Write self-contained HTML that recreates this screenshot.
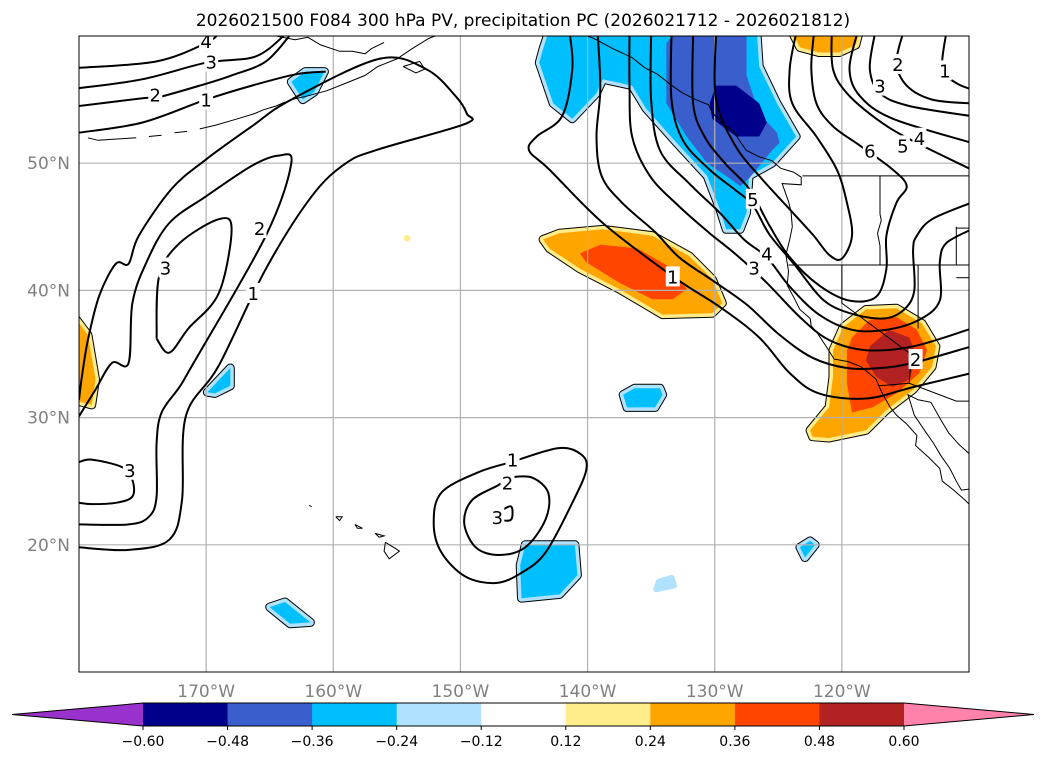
<!DOCTYPE html>
<html><head><meta charset="utf-8">
<style>
html,body{margin:0;padding:0;background:#fff;}
svg{display:block;font-family:"DejaVu Sans","Liberation Sans",sans-serif;}
</style></head>
<body>
<svg id="chart" width="1047" height="765" viewBox="0 0 1047 765" xmlns="http://www.w3.org/2000/svg">
<text x="523" y="26" text-anchor="middle" font-size="17" fill="#000">2026021500 F084 300 hPa PV, precipitation PC (2026021712 - 2026021812)</text>
<defs><clipPath id="mapclip"><rect x="79" y="36" width="890" height="636"/></clipPath></defs>
<g id="map" clip-path="url(#mapclip)"></g>
<rect x="79" y="36" width="890" height="636" fill="none" stroke="#000" stroke-width="1"/>
<g id="axes"></g>
<g id="cbar"></g>
</svg>
<script>
// ---------- projection extents ----------
const lonMin = -180, lonMax = -110, latMin = 10, latMax = 60;
const X0 = 79, X1 = 969, Y0 = 36, Y1 = 672;
function xOf(lon){ return X0 + (lon - lonMin) / (lonMax - lonMin) * (X1 - X0); }
function yOf(lat){ return Y0 + (latMax - lat) / (latMax - latMin) * (Y1 - Y0); }

// ---------- grid ticks ----------
const lonTicks = [-170,-160,-150,-140,-130,-120];
const lonTickLabels = ["170°W","160°W","150°W","140°W","130°W","120°W"];
const latTicks = [20,30,40,50];
const latTickLabels = ["20°N","30°N","40°N","50°N"];

// ---------- colorbar ----------
const cbarLevels = [-0.60,-0.48,-0.36,-0.24,-0.12,0.12,0.24,0.36,0.48,0.60];
const cbarLabels = ["\u22120.60","\u22120.48","\u22120.36","\u22120.24","\u22120.12","0.12","0.24","0.36","0.48","0.60"];
const cbarColors = ["#9932cc","#00008b","#3a5fcd","#00bfff","#b0e2ff","#ffffff","#ffec8b","#ffa500","#ff4500","#b22222","#ff82ab"];

// ---------- precipitation PC blobs (value, [lon,lat] polygon) ----------
const blobValues = [-0.30,-0.42,-0.54, 0.30,0.42, 0.30,0.42,0.54, 0.30,0.30, -0.30,-0.30,-0.30,-0.30,-0.30,-0.30, -0.18, 0.18];
const blobShapes = [
 [[-143.5,59.0],[-143.8,57.9],[-142.7,54.7],[-141.2,53.5],[-139.3,55.5],[-138.8,56.6],[-136.5,56.1],[-135.4,54.3],[-133.0,51.6],[-130.6,49.0],[-129.6,46.4],[-129.1,44.8],[-128.0,44.8],[-127.5,46.1],[-127.3,49.0],[-125.5,50.0],[-123.6,52.1],[-125.1,54.7],[-126.5,57.6],[-126.7,60.5],[-143.0,60.5]],
 [[-133.0,60.5],[-133.8,59.4],[-133.8,54.7],[-132.2,52.1],[-130.6,50.0],[-129.1,49.0],[-128.0,48.2],[-127.3,48.8],[-125.5,51.0],[-124.9,51.6],[-125.1,52.4],[-126.5,53.9],[-127.5,56.9],[-127.5,60.5]],
 [[-129.9,56.1],[-128.3,56.1],[-126.5,54.7],[-125.9,53.2],[-126.5,52.1],[-128.3,52.1],[-130.2,53.5],[-130.4,54.7]],
 [[-143.5,44.0],[-142.2,44.5],[-138.8,44.8],[-134.9,44.3],[-132.0,42.7],[-130.2,40.9],[-129.4,39.0],[-130.2,38.2],[-134.1,38.1],[-137.5,40.1],[-140.6,41.7],[-143.0,43.3]],
 [[-140.6,42.9],[-139.0,43.6],[-136.1,43.3],[-133.3,41.7],[-132.2,40.1],[-133.3,39.3],[-134.9,39.3],[-137.5,40.6],[-140.1,42.2]],
 [[-122.5,29.0],[-121.0,30.8],[-120.7,33.2],[-120.7,35.3],[-119.9,37.1],[-118.1,38.5],[-115.7,38.6],[-113.7,37.4],[-112.6,35.6],[-112.9,34.0],[-114.4,32.2],[-116.5,30.6],[-118.1,29.0],[-121.0,28.4],[-122.3,28.5]],
 [[-119.2,36.3],[-117.8,37.7],[-115.7,37.9],[-114.1,36.9],[-113.3,35.3],[-113.9,33.5],[-115.7,31.9],[-117.6,30.8],[-119.2,30.4],[-119.6,32.7],[-119.6,35.3]],
 [[-117.8,35.6],[-116.3,36.9],[-114.7,36.3],[-114.1,34.8],[-114.7,33.0],[-116.0,32.4],[-117.3,33.2],[-118.1,34.5]],
 [[-124.0,60.5],[-123.3,59.1],[-121.8,58.7],[-120.2,58.7],[-118.9,59.3],[-118.6,60.5]],
 [[-180.5,38.1],[-179.3,36.5],[-178.7,33.0],[-179.0,31.0],[-180.5,31.4]],
 [[-163.3,56.4],[-162.2,57.2],[-160.7,57.2],[-161.5,55.6],[-162.4,55.0]],
 [[-169.9,32.0],[-168.1,33.9],[-168.1,32.5],[-169.3,31.9]],
 [[-137.2,31.8],[-136.3,32.3],[-134.3,32.3],[-134.1,31.8],[-134.7,30.8],[-136.9,30.8]],
 [[-144.9,20.0],[-141.0,20.0],[-140.8,17.6],[-142.2,16.1],[-145.2,15.8],[-145.3,18.4]],
 [[-165.0,15.1],[-163.8,15.5],[-161.8,13.9],[-163.4,13.8]],
 [[-123.3,19.8],[-122.5,20.3],[-122.1,20.0],[-122.9,19.0]],
 [[-134.4,17.1],[-133.4,17.4],[-133.2,16.8],[-134.6,16.5]],
 [[-154.22,44.12],[-154.18,44.12],[-154.18,44.08],[-154.22,44.08]]
];

// ---------- PV contours (value, [lon,lat] line) ----------
const contourValues = [4,3,2,1,1,2,3,3, 1,2,3, 1,2,3,4,5,6,7, 5,4,3,2,1];
const contourLines = [
 [[-180,57.5],[-173.9,58.0],[-170.0,59.45],[-169.0,60.2]],
 [[-180,55.9],[-175,56.6],[-170,57.9],[-166.1,58.4],[-163.7,60.2]],
 [[-180,54.5],[-175,55.1],[-173.7,55.2],[-170.5,56.1],[-168,56.9],[-165.3,58.0],[-163.3,60.2]],
 [[-180,52.4],[-175,53.2],[-170,55.0],[-166.4,56.1],[-162.9,57.0],[-160.6,57.2]],
 [[-180,31.4],[-179.8,33.0],[-179.3,36.1],[-178.4,39.6],[-177.1,42.1],[-176.1,42.1],[-175.3,44.3],[-172.7,48.0],[-170,50.3],[-166.4,52.9],[-163.3,55.0],[-156.4,58.2],[-152.7,57.4],[-150.4,55.3],[-149.5,53.9],[-149.6,53.1],[-156.4,51.1],[-159.0,50.0],[-161.7,47.4],[-165.3,41.7],[-169.0,34.1],[-171.6,30.1],[-171.9,23.5],[-172.9,20.4],[-176.1,19.6],[-180,19.8]],
 [[-180,30.1],[-178.7,32.2],[-177.4,34.3],[-176.1,34.3],[-175.8,39.0],[-174.7,42.2],[-172.9,45.3],[-170,47.4],[-166.4,49.8],[-164.3,50.6],[-163.3,50.0],[-165.3,44.3],[-171.1,34.1],[-172.1,32.4],[-173.5,30.4],[-173.9,28.0],[-173.9,23.8],[-174.5,22.2],[-176.1,21.6],[-180,21.6]],
 [[-173.9,36.2],[-172.9,35.1],[-171.4,37.0],[-169.0,39.8],[-168.0,44.8],[-169.0,45.6],[-172.1,43.7],[-173.7,41.1],[-173.9,36.2]],
 [[-180,26.5],[-179.0,26.7],[-176.6,26.1],[-175.8,25.1],[-175.8,23.8],[-177.1,23.3],[-179.0,23.2],[-180,23.3]],
 [[-146.0,26.5],[-142.3,27.6],[-140.5,27.1],[-140.1,25.9],[-141.2,23.3],[-143.3,19.4],[-145.2,17.8],[-147.2,17.0],[-149.6,17.5],[-151.5,19.4],[-152.1,21.7],[-151.5,24.1],[-148.6,25.7],[-146.0,26.5]],
 [[-146.2,25.3],[-144.4,25.3],[-143.1,24.1],[-143.3,22.0],[-144.9,19.8],[-147.0,19.2],[-148.8,19.8],[-149.7,21.7],[-149.1,23.5],[-147.0,24.7],[-146.2,25.3]],
 [[-146.8,22.7],[-146.0,23.0],[-146.0,22.0],[-146.8,22.0],[-146.8,22.7]],
 [[-141.4,60.2],[-141.2,57.4],[-142.0,53.7],[-144.0,52.1],[-144.6,51.0],[-143.0,49.5],[-138.8,45.3],[-133.3,41.1],[-129.6,38.7],[-126.5,36.3],[-124.1,33.5],[-121.8,31.9],[-118.1,31.5],[-114.4,32.4],[-109.8,33.5]],
 [[-139.2,60.2],[-139.0,55.8],[-139.3,52.1],[-138.9,49.0],[-137.3,46.9],[-134.7,44.6],[-132.8,42.6],[-130.2,40.8],[-127.5,38.9],[-124.9,36.5],[-122.3,34.7],[-119.6,33.9],[-117.0,33.9],[-114.4,34.3],[-109.8,35.6]],
 [[-136.7,60.2],[-136.7,56.1],[-136.5,52.1],[-135.1,49.0],[-132.8,46.6],[-130.4,44.5],[-128.3,42.8],[-125.9,40.6],[-123.3,37.9],[-121.0,36.1],[-118.1,35.3],[-114.4,35.6],[-109.8,37.0]],
 [[-135.0,60.2],[-135.0,55.0],[-134.3,51.0],[-132.0,48.4],[-129.6,46.1],[-127.7,44.0],[-125.9,42.6],[-124.1,40.3],[-121.8,38.1],[-119.2,36.9],[-116.5,36.9],[-113.9,37.7],[-112.3,39.2],[-112.3,42.2],[-111.8,43.7],[-109.8,44.8]],
 [[-133.4,60.2],[-133.4,55.0],[-132.5,51.8],[-130.4,49.5],[-128.4,47.9],[-127.0,46.7],[-125.7,44.4],[-123.7,42.0],[-121.4,39.2],[-119.0,38.1],[-116.6,37.8],[-115.1,38.5],[-114.3,40.0],[-114.4,43.2],[-114.1,44.3],[-112.9,45.6],[-109.8,46.9]],
 [[-131.7,60.2],[-131.7,54.7],[-130.8,52.1],[-129.2,50.0],[-127.3,48.0],[-125.7,45.1],[-124.1,42.6],[-121.8,40.4],[-119.4,39.2],[-117.3,39.5],[-116.5,41.7],[-116.5,44.3],[-115.7,46.9],[-114.9,48.2],[-116.0,49.5],[-118.6,51.4],[-120.7,52.9],[-122.0,54.7],[-122.4,57.4],[-122.2,60.2]],
 [[-129.9,60.2],[-129.9,55.0],[-128.4,51.4],[-126.5,49.0],[-124.4,46.7],[-122.3,44.4],[-121.0,42.8],[-120.0,42.5],[-119.2,44.3],[-119.6,46.9],[-120.4,49.5],[-122.0,52.1],[-123.9,54.7],[-124.1,57.4],[-123.6,60.2]],
 [[-120.8,60.2],[-120.7,57.4],[-119.6,55.5],[-117.3,53.5],[-114.7,51.9],[-109.8,49.5]],
 [[-118.8,60.2],[-119.4,57.4],[-118.6,55.3],[-116.0,53.5],[-109.8,51.6]],
 [[-117.4,60.2],[-117.8,57.4],[-117.0,55.5],[-114.7,54.5],[-109.8,53.7]],
 [[-115.2,60.2],[-115.7,57.9],[-114.9,56.1],[-112.9,55.0],[-109.8,54.7]],
 [[-111.8,60.2],[-112.1,57.4],[-111.0,56.3],[-109.8,55.8]]
];

// ---------- contour labels ----------
const labelTexts = ["4","3","2","1","2","1","3","3","1","2","3","1","2","3","4","5","6","5","4","3","2","1"];
const labelPos = [[-170,59.6],[-169.6,58.0],[-174.0,55.4],[-170.0,55.0],[-165.8,44.9],[-166.3,39.8],[-173.2,41.8],[-176.0,25.9],[-145.9,26.7],[-146.3,24.9],[-147.1,22.2],[-133.3,41.1],[-114.2,34.6],[-126.9,41.8],[-125.9,42.9],[-127.0,47.2],[-117.8,51.0],[-115.2,51.4],[-113.9,52.0],[-117.0,56.1],[-115.6,57.8],[-111.9,57.3]];

// ---------- coastlines & borders ----------
const coastLines = [
 [[-140.5,60.2],[-139.5,59.8],[-138,59],[-136.5,58.3],[-135.5,57.5],[-134.5,57.0],[-133.5,56.2],[-132.5,55.5],[-131.5,55],[-130.5,54.6],[-130.2,54],[-129.5,53.2],[-128.5,52.5],[-128,51.7],[-127.5,51],[-126.5,50.5],[-125.5,50.2],[-124.8,49.6],[-123.8,49.3],[-123.2,48.9],[-123.2,48.3],[-124.7,48.4],[-124.2,47],[-124,46.2],[-123.9,45],[-124.1,44],[-124.4,42.8],[-124.2,41.5],[-124.3,40.4],[-123.8,39.5],[-123.3,38.5],[-122.5,37.8],[-122.4,37.2],[-121.9,36.6],[-121.3,35.7],[-120.6,34.6],[-119.5,34.4],[-118.5,34.0],[-118.0,33.6],[-117.3,33.0],[-117.1,32.5],[-116.7,31.7],[-116.2,30.8],[-115.7,30.2],[-114.9,29.5],[-114.1,28.6],[-114.2,27.8],[-113.2,26.9],[-112.3,26.0],[-112.1,25.0],[-111.2,24.3],[-110.3,23.5],[-109.8,23.0]],
 [[-109.8,24.4],[-110.6,24.3],[-111.0,25.0],[-111.5,26.0],[-112.2,27.0],[-112.8,28.0],[-113.5,29.0],[-114.3,30.2],[-114.7,31.5],[-114.8,31.8],[-114.0,31.4],[-113.0,31.2],[-112.2,29.8],[-111.6,28.8],[-110.8,27.9],[-109.8,27.0]],
 [[-163.3,55.0],[-162,55.3],[-160.5,55.7],[-159,56.3],[-157.5,56.9],[-156.5,57.6],[-155,58.2],[-153.8,59.0],[-152.5,59.8],[-151.5,60.2]],
 [[-154.5,57.6],[-153.5,57.1],[-152.8,57.4],[-153.2,58.0],[-154.5,57.6]],
 [[-179.3,52.0],[-178.5,51.8],[-177,51.9],[-175.5,52.0]],
 [[-174.5,52.1],[-173.5,52.2]],
 [[-172.5,52.4],[-171.5,52.5]],
 [[-170.5,52.7],[-169.2,53.0],[-167.5,53.5],[-166.2,53.9],[-165.5,54.2],[-164.5,54.5],[-163.8,54.8]],
 [[-165.8,60.2],[-164.5,60.0],[-163,59.7],[-162,59.9],[-161,59.3],[-159.5,58.8],[-158.5,58.8],[-157.5,58.6],[-157,59.0],[-156,59.5]],
 [[-155.9,20.2],[-155.1,19.7],[-154.8,19.5],[-155.6,18.9],[-156.0,19.5],[-155.9,20.2]],
 [[-156.7,20.9],[-156.0,20.7],[-156.4,20.6],[-156.7,20.9]],
 [[-158.3,21.6],[-157.7,21.3],[-158.1,21.3],[-158.3,21.6]],
 [[-159.8,22.2],[-159.3,22.2],[-159.5,21.9],[-159.8,22.2]],
 [[-161.9,23.1],[-161.7,23.0]]
];
const borderLines = [
 [[-123.1,49.0],[-109.8,49.0]],
 [[-124.2,42.0],[-109.8,42.0]],
 [[-117.0,49.0],[-117.0,46.0],[-116.9,45.5],[-117.2,44.5],[-117.0,43.5],[-117.0,42.0]],
 [[-120.0,42.0],[-120.0,39.0],[-114.6,35.0],[-114.6,34.0],[-114.7,32.7]],
 [[-117.1,32.5],[-114.7,32.7],[-111.0,31.3],[-109.8,31.3]],
 [[-114.0,42.0],[-114.0,37.0]],
 [[-111.0,45.0],[-111.0,42.0],[-109.8,42.0]],
 [[-111.0,41.0],[-109.8,41.0]],
 [[-109.8,44.9],[-111.0,44.9]]
];

// ---------- rendering ----------
const NS = "http://www.w3.org/2000/svg";
const map = document.getElementById('map');
const axes = document.getElementById('axes');
const cbar = document.getElementById('cbar');
function mk(tag, attrs, parent){
  const e = document.createElementNS(NS, tag);
  for (const k in attrs) e.setAttribute(k, attrs[k]);
  parent.appendChild(e); return e;
}
function colorFor(v){
  let i = 0; while (i < cbarLevels.length && v > cbarLevels[i]) i++;
  return cbarColors[i];
}
function ptsStr(pts){ return pts.map(p => xOf(p[0]).toFixed(1)+','+yOf(p[1]).toFixed(1)).join(' '); }
function smoothPath(pts){
  const P = pts.map(p => [xOf(p[0]), yOf(p[1])]);
  if (P.length < 3) return 'M'+P.map(p=>p.join(',')).join(' L');
  let d = 'M'+P[0][0].toFixed(1)+','+P[0][1].toFixed(1);
  for (let i=0;i<P.length-1;i++){
    const p0=P[Math.max(0,i-1)], p1=P[i], p2=P[i+1], p3=P[Math.min(P.length-1,i+2)];
    const c1=[p1[0]+(p2[0]-p0[0])/6, p1[1]+(p2[1]-p0[1])/6];
    const c2=[p2[0]-(p3[0]-p1[0])/6, p2[1]-(p3[1]-p1[1])/6];
    d+=' C'+c1[0].toFixed(1)+','+c1[1].toFixed(1)+' '+c2[0].toFixed(1)+','+c2[1].toFixed(1)+' '+p2[0].toFixed(1)+','+p2[1].toFixed(1);
  }
  return d;
}

// blobs: outer outline, light band, inner fill
const bandLayer = mk('g', {}, map);


const fillLayer = mk('g', {}, map);


blobValues.forEach((v, i) => {
  const light = v < 0 ? cbarColors[4] : cbarColors[6];
  const weak = Math.abs(v) < 0.24;
  const isOuter = Math.abs(v) < 0.36;
  if (isOuter) {
    if (!weak) {
      const o = mk('polygon', {points: ptsStr(blobShapes[i]), fill: 'none', stroke: '#000', 'stroke-width': 9, 'stroke-linejoin': 'round'}, bandLayer);
      
      
    }
    const b = mk('polygon', {points: ptsStr(blobShapes[i]), fill: light, stroke: light, 'stroke-width': weak ? 6 : 7, 'stroke-linejoin': 'round'}, bandLayer);
    
    
  }
  if (!weak) {
    const f = mk('polygon', {points: ptsStr(blobShapes[i]), fill: colorFor(v), stroke: 'none'}, fillLayer);
    
    
  }
});

// grid
lonTicks.forEach(lon => {
  const l = mk('line', {x1:xOf(lon), x2:xOf(lon), y1:Y0, y2:Y1, stroke:'#b0b0b0', 'stroke-width':1.2}, map);
  
  
});
latTicks.forEach(lat => {
  const l = mk('line', {x1:X0, x2:X1, y1:yOf(lat), y2:yOf(lat), stroke:'#b0b0b0', 'stroke-width':1.2}, map);
  
  
});

// coastlines & borders
coastLines.forEach(c => {
  const p = mk('polyline', {points: ptsStr(c), fill:'none', stroke:'#000', 'stroke-width':1}, map);
  
  
});
borderLines.forEach(c => {
  const p = mk('polyline', {points: ptsStr(c), fill:'none', stroke:'#000', 'stroke-width':1}, map);
  
  
});

// contours
contourLines.forEach((c, i) => {
  const p = mk('path', {d: smoothPath(c), fill:'none', stroke:'#000', 'stroke-width':2, 'stroke-linejoin':'round'}, map);
  
  
});
labelTexts.forEach((t, i) => {
  const x = xOf(labelPos[i][0]), y = yOf(labelPos[i][1]);
  const r = mk('rect', {x:x-7, y:y-10, width:14, height:20, fill:'#fff'}, map);
  
  
  const tx = mk('text', {x:x, y:y+7, 'text-anchor':'middle', 'font-size':18, fill:'#000'}, map);
  tx.textContent = t;
  
  
});

// axis labels
lonTicks.forEach((lon, i) => {
  const t = mk('text', {x:xOf(lon), y:697, 'text-anchor':'middle', 'font-size':17, fill:'#808080'}, axes);
  t.textContent = lonTickLabels[i];
  
  
});
latTicks.forEach((lat, i) => {
  const t = mk('text', {x:70, y:yOf(lat)+6, 'text-anchor':'end', 'font-size':17, fill:'#808080'}, axes);
  t.textContent = latTickLabels[i];
  
  
});

// colorbar
const cbX0 = 143, cbX1 = 904, cbTop = 703, cbBot = 726, cbLeft = 12, cbRight = 1034;
const seg = (cbX1 - cbX0) / (cbarLevels.length - 1);
function cbX(i){ return cbX0 + i * seg; }
const lt = mk('polygon', {points: cbLeft+','+(cbTop+cbBot)/2+' '+cbX0+','+cbTop+' '+cbX0+','+cbBot, fill: cbarColors[0]}, cbar);


for (let i = 0; i < cbarLevels.length - 1; i++) {
  const r = mk('rect', {x: cbX(i), y: cbTop, width: seg + 0.5, height: cbBot - cbTop, fill: cbarColors[i+1]}, cbar);
  
  
}
const rt = mk('polygon', {points: cbX1+','+cbTop+' '+cbRight+','+(cbTop+cbBot)/2+' '+cbX1+','+cbBot, fill: cbarColors[cbarColors.length-1]}, cbar);


const ol = mk('polygon', {points: cbLeft+','+(cbTop+cbBot)/2+' '+cbX0+','+cbTop+' '+cbX1+','+cbTop+' '+cbRight+','+(cbTop+cbBot)/2+' '+cbX1+','+cbBot+' '+cbX0+','+cbBot, fill:'none', stroke:'#000', 'stroke-width':1}, cbar);


cbarLevels.forEach((v, i) => {
  const tk = mk('line', {x1: cbX(i), x2: cbX(i), y1: cbBot, y2: cbBot + 4, stroke:'#000', 'stroke-width':1}, cbar);
  
  
  const t = mk('text', {x: cbX(i), y: 746, 'text-anchor':'middle', 'font-size':14, fill:'#000'}, cbar);
  t.textContent = cbarLabels[i];
  
  
});
</script>
</body></html>
